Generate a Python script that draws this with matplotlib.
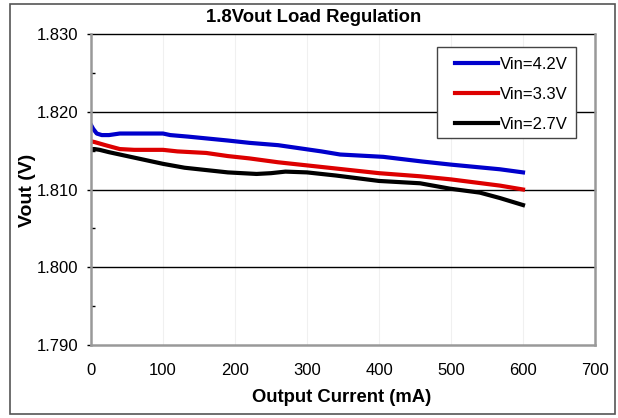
import matplotlib
matplotlib.use("Agg")
import matplotlib.pyplot as plt
from matplotlib.patches import Rectangle
from matplotlib.ticker import MultipleLocator

plt.rcParams['font.family'] = ['Liberation Sans', 'DejaVu Sans']

title = "1.8Vout Load Regulation"
xlabel = "Output Current (mA)"
ylabel = "Vout (V)"

x_42 = [0, 3, 8, 15, 25, 40, 100, 110, 135, 190, 220, 260, 290, 320, 346, 406, 460, 500, 568, 600]
v_42 = [1.8183, 1.8178, 1.8172, 1.8170, 1.8170, 1.8172, 1.8172, 1.8170, 1.8168, 1.8163,
        1.8160, 1.8157, 1.8153, 1.8149, 1.8145, 1.8142, 1.8136, 1.8132, 1.8126, 1.8122]

x_33 = [0, 5, 20, 40, 60, 80, 100, 120, 140, 160, 190, 220, 260, 300, 350, 400, 457, 500, 568, 600]
v_33 = [1.8162, 1.8161, 1.8157, 1.8152, 1.8151, 1.8151, 1.8151, 1.8149, 1.8148, 1.8147,
        1.8143, 1.8140, 1.8135, 1.8131, 1.8126, 1.8121, 1.8117, 1.8113, 1.8105, 1.8100]

x_27 = [0, 5, 12, 25, 40, 60, 80, 100, 130, 160, 190, 210, 230, 250, 270, 300, 340, 400, 457, 499, 540, 568, 600]
v_27 = [1.8152, 1.8152, 1.8151, 1.8148, 1.8145, 1.8141, 1.8137, 1.8133, 1.8128, 1.8125, 1.8122,
        1.8121, 1.8120, 1.8121, 1.8123, 1.8122, 1.8118, 1.8111, 1.8108, 1.8101, 1.8096, 1.8089, 1.8080]

labels = ["Vin=4.2V", "Vin=3.3V", "Vin=2.7V"]
colors = ["#0000CC", "#DD0000", "#000000"]

W, H = 618, 418
fig = plt.figure(figsize=(W / 100, H / 100), dpi=100)
fig.patches.append(Rectangle((10 / W, 4 / H), 605 / W, 410 / H, transform=fig.transFigure,
                             fill=False, edgecolor="#555555", linewidth=1.2))

ax = fig.add_axes([91 / W, (H - 345) / H, 504 / W, (345 - 34) / H])
for xs, vs, lab, c in zip([x_42, x_33, x_27], [v_42, v_33, v_27], labels, colors):
    ax.plot(xs, vs, color=c, linewidth=3, label=lab, solid_joinstyle="round")

ax.set_xlim(0, 700)
ax.set_ylim(1.790, 1.830)
ax.xaxis.set_major_locator(MultipleLocator(100))
ax.yaxis.set_major_locator(MultipleLocator(0.01))
ax.yaxis.set_minor_locator(MultipleLocator(0.005))
ax.yaxis.set_major_formatter(matplotlib.ticker.FormatStrFormatter("%.3f"))

for v in [1.800, 1.810, 1.820, 1.830]:
    ax.axhline(v, color="black", linewidth=1, zorder=1, clip_on=False)
for v in range(100, 700, 100):
    ax.axvline(v, color="#f0f0f0", linewidth=0.8, zorder=0)

for side in ["left", "right", "bottom"]:
    ax.spines[side].set_color("#999999")
    ax.spines[side].set_linewidth(1.8)
ax.spines["top"].set_visible(False)

ax.tick_params(axis="y", which="major", direction="out", length=3, width=1, color="black",
               labelsize=12, pad=6)
ax.tick_params(axis="y", which="minor", direction="in", length=3, width=1, color="black")
ax.tick_params(axis="x", which="major", length=0, labelsize=12, pad=13)

ax.set_xlabel(xlabel, fontsize=13.3, fontweight="bold")
ax.set_ylabel(ylabel, fontsize=14, fontweight="bold")
ax.xaxis.set_label_coords(0.5 - 1 / 504, -(397 - 345) / 311)
ax.yaxis.set_label_coords(-(91 - 27.5) / 504, 0.5 + (189 - 189.5) / 311)
ax.xaxis.label.set_va("center")
ax.yaxis.label.set_va("center")
fig.text(314 / W, 1 - 18 / H, title, ha="center", va="center", fontsize=13.3, fontweight="bold")

# legend frame drawn manually
ax.add_patch(Rectangle((437 / W, 1 - 138 / H), 139 / W, 91 / H, transform=fig.transFigure,
                       facecolor="white", edgecolor="#444444", linewidth=1, zorder=4, clip_on=False))
leg = ax.legend(loc="upper left", bbox_to_anchor=(455 / W, 1 - 57 / H), bbox_transform=fig.transFigure,
                borderaxespad=0, fontsize=12, frameon=False, handlelength=2.6,
                handletextpad=0.1, labelspacing=0.89, borderpad=0)
leg.set_zorder(5)

fig.savefig("out.png", dpi=100)
